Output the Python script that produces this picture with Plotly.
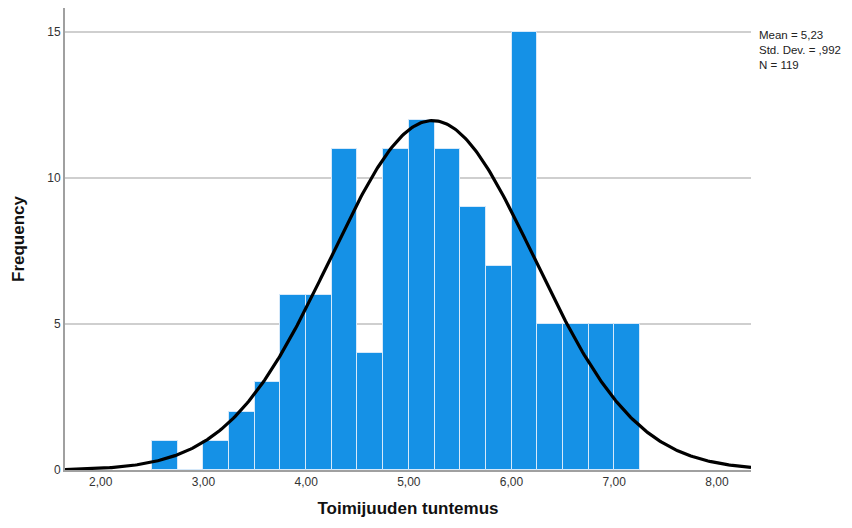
import numpy as np
import plotly.graph_objects as go

# Histogram bins (width 0.25) and counts
bin_left = [2.50, 2.75, 3.00, 3.25, 3.50, 3.75, 4.00, 4.25, 4.50, 4.75,
            5.00, 5.25, 5.50, 5.75, 6.00, 6.25, 6.50, 6.75, 7.00]
counts = [1, 0, 1, 2, 3, 6, 6, 11, 4, 11, 12, 11, 9, 7, 15, 5, 5, 5, 5]
bin_width = 0.25

mean = 5.23
std = 0.992
n = 119

stats_lines = ["Mean = 5,23", "Std. Dev. = ,992", "N = 119"]

x_ticks = [2, 3, 4, 5, 6, 7, 8]
y_ticks = [0, 5, 10, 15]
x_range = [1.652, 8.332]
y_range = [0, 15.82]

centers = [b + bin_width / 2 for b in bin_left]

# Normal curve scaled to counts
xs = np.linspace(x_range[0], x_range[1], 400)
ys = n * bin_width / (std * np.sqrt(2 * np.pi)) * np.exp(-0.5 * ((xs - mean) / std) ** 2)

fig = go.Figure()
fig.add_trace(go.Bar(
    x=centers, y=counts, width=bin_width,
    marker=dict(color="#1591e6", line=dict(color="#d6e9fa", width=1)),
    hoverinfo="x+y",
))
fig.add_trace(go.Scatter(
    x=xs, y=ys, mode="lines",
    line=dict(color="black", width=3.2),
    hoverinfo="skip",
))

plot_top, plot_bottom = 8, 58
plot_h = 528 - plot_top - plot_bottom

fig.update_layout(
    width=852, height=528,
    margin=dict(l=65, r=101, t=plot_top, b=plot_bottom),
    paper_bgcolor="white", plot_bgcolor="white",
    showlegend=False,
    separators=", ",
    font=dict(family="Liberation Sans, Arial, sans-serif", color="#333333", size=12),
    bargap=0,
    xaxis=dict(
        range=x_range, tickvals=x_ticks, tickformat=".2f",
        showgrid=False, zeroline=False,
        showline=True, linecolor="#a0a0a0", linewidth=2,
        ticks="", ticklen=0,
        tickfont=dict(size=12, color="#333333"),
        title=dict(text="<b>Toimijuuden tuntemus</b>",
                   font=dict(size=17, color="#111111"), standoff=14),
    ),
    yaxis=dict(
        range=y_range, tickvals=y_ticks,
        showgrid=True, gridcolor="#cfcfcf", gridwidth=1.5,
        zeroline=False,
        showline=True, linecolor="#a0a0a0", linewidth=2,
        ticks="", ticklen=0,
        tickfont=dict(size=12, color="#333333"),
        title=dict(text="<b>Frequency</b>",
                   font=dict(size=17, color="#111111"), standoff=18),
    ),
)

# Summary statistics block to the right of the plot
fig.add_annotation(
    xref="paper", yref="paper", x=1.0,
    y=(528 - plot_bottom - 28) / plot_h,
    xanchor="left", yanchor="top", xshift=7, align="left", showarrow=False,
    borderpad=0,
    text="<br>".join(stats_lines), font=dict(size=11.5, color="#222222"),
)

fig.write_html("out.html")
